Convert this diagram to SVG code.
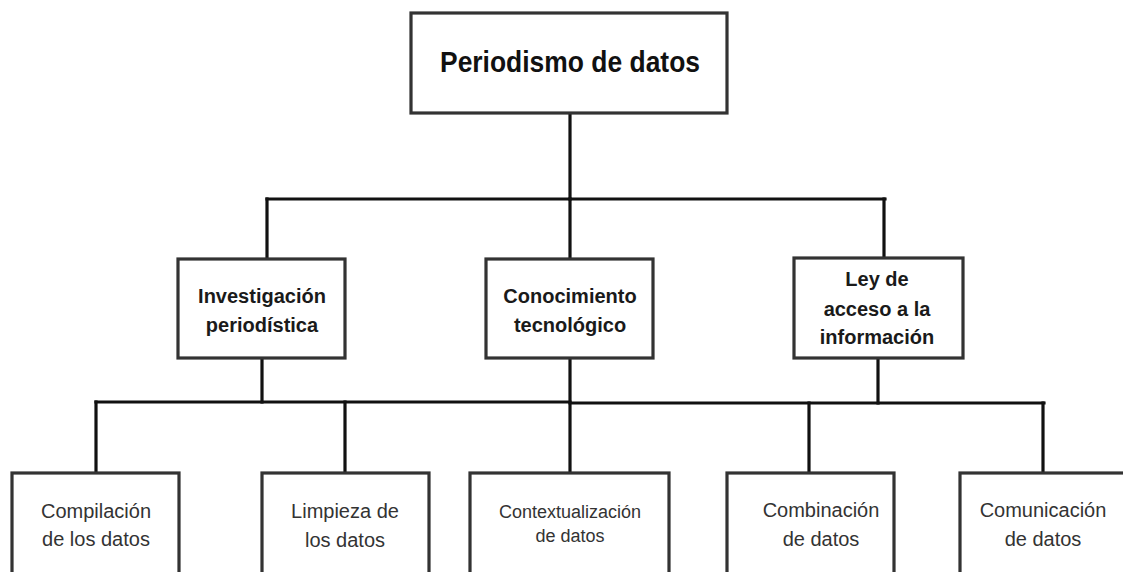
<svg xmlns="http://www.w3.org/2000/svg" width="1123" height="572" viewBox="0 0 1123 572">
  <style>
    .box { fill: #ffffff; stroke: #333333; stroke-width: 3.2; }
    .conn { stroke: #111111; stroke-width: 3.2; fill: none; stroke-linecap: square; }
    .t0 { font-family: "Liberation Sans", Arial, sans-serif; font-weight: bold; font-size: 30px; fill: #111111; text-anchor: middle; }
    .t1 { font-family: "Liberation Sans", Arial, sans-serif; font-weight: bold; font-size: 20px; fill: #1a1a1a; text-anchor: middle; }
    .t2 { font-family: "Liberation Sans", Arial, sans-serif; font-size: 20px; fill: #333333; text-anchor: middle; }
    .t3 { font-family: "Liberation Sans", Arial, sans-serif; font-size: 18px; fill: #333333; text-anchor: middle; }
  </style>
  <rect width="1123" height="572" fill="#ffffff"/>

  <g id="connectors">
    <path class="conn" d="M570 113 V199"/>
    <path class="conn" d="M267 199 H885"/>
    <path class="conn" d="M267 199 V259"/>
    <path class="conn" d="M570 199 V259"/>
    <path class="conn" d="M884 199 V259"/>
    <path class="conn" d="M262 358 V402"/>
    <path class="conn" d="M570 358 V473"/>
    <path class="conn" d="M878 358 V403"/>
    <path class="conn" d="M96 402 H570"/>
    <path class="conn" d="M570 403 H1044"/>
    <path class="conn" d="M96 402 V473"/>
    <path class="conn" d="M345 402 V473"/>
    <path class="conn" d="M809 403 V473"/>
    <path class="conn" d="M1043 403 V473"/>
  </g>

  <g id="node-periodismo">
    <rect class="box" x="411" y="13" width="316" height="100"/>
    <text class="t0" x="570" y="72" textLength="260" lengthAdjust="spacingAndGlyphs">Periodismo de datos</text>
  </g>

  <g id="node-investigacion">
    <rect class="box" x="178" y="259" width="167" height="99"/>
    <text class="t1" x="262" y="303">Investigación</text>
    <text class="t1" x="262" y="332">periodística</text>
  </g>

  <g id="node-conocimiento">
    <rect class="box" x="486" y="259" width="167" height="99"/>
    <text class="t1" x="570" y="303">Conocimiento</text>
    <text class="t1" x="570" y="332">tecnológico</text>
  </g>

  <g id="node-ley">
    <rect class="box" x="794" y="258" width="169" height="100"/>
    <text class="t1" x="877" y="286">Ley de</text>
    <text class="t1" x="877" y="316">acceso a la</text>
    <text class="t1" x="877" y="344">información</text>
  </g>

  <g id="node-compilacion">
    <rect class="box" x="12" y="473" width="167" height="110"/>
    <text class="t2" x="96" y="518">Compilación</text>
    <text class="t2" x="96" y="546">de los datos</text>
  </g>

  <g id="node-limpieza">
    <rect class="box" x="262" y="473" width="167" height="110"/>
    <text class="t2" x="345" y="518">Limpieza de</text>
    <text class="t2" x="345" y="547">los datos</text>
  </g>

  <g id="node-contextualizacion">
    <rect class="box" x="470" y="473" width="199" height="110"/>
    <text class="t3" x="570" y="518">Contextualización</text>
    <text class="t3" x="570" y="542">de datos</text>
  </g>

  <g id="node-combinacion">
    <rect class="box" x="727" y="473" width="167" height="110"/>
    <text class="t2" x="821" y="517">Combinación</text>
    <text class="t2" x="821" y="546">de datos</text>
  </g>

  <g id="node-comunicacion">
    <rect class="box" x="960" y="473" width="180" height="110"/>
    <text class="t2" x="1043" y="517">Comunicación</text>
    <text class="t2" x="1043" y="546">de datos</text>
  </g>
</svg>
